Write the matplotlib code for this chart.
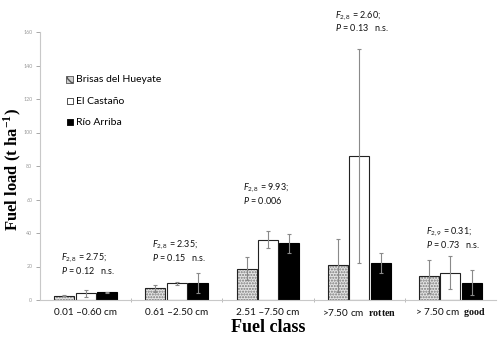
import matplotlib
matplotlib.use("Agg")
import matplotlib.pyplot as plt
import numpy as np

plt.rcParams['font.family'] = ['Lato', 'DejaVu Sans']
plt.rcParams['mathtext.fontset'] = 'custom'
plt.rcParams['mathtext.rm'] = 'Lato'
plt.rcParams['mathtext.it'] = 'Lato:italic'
plt.rcParams['mathtext.bf'] = 'Liberation Serif:bold'

categories = ["0.01 \u20130.60 cm", "0.61 \u20132.50 cm", "2.51 \u20137.50 cm",
              ">7.50 cm", "> 7.50 cm"]
category_suffix = ["", "", "", "rotten", "good"]
series = ["Brisas del Hueyate", "El Casta\u00f1o", "R\u00edo Arriba"]
brisas = [2.6, 7.0, 18.7, 20.7, 14.1]
brisas_err = [0.5, 2.0, 7.0, 16.0, 10.0]
castano = [4.0, 10.0, 36.0, 86.0, 16.3]
castano_err = [2.0, 0.8, 5.2, 64.0, 10.0]
rio = [4.5, 10.2, 33.8, 21.9, 10.3]
rio_err = [0.5, 6.0, 5.5, 6.0, 7.5]
stats_f = [r"$F_{2,8}$ = 2.75;", r"$F_{2,8}$ = 2.35;", r"$F_{2,8}$ = 9.93;",
           r"$F_{2,8}$ = 2.60;", r"$F_{2,9}$ = 0.31;"]
stats_p = [r"$P$ = 0.12   n.s.", r"$P$ = 0.15   n.s.", r"$P$ = 0.006",
           r"$P$ = 0.13   n.s.", r"$P$ = 0.73   n.s."]
stats_y = [25.0, 33.0, 67.0, 170.0, 40.5]
yticks = [0, 20, 40, 60, 80, 100, 120, 140, 160]

fig = plt.figure(figsize=(4.99, 3.40), dpi=100)
ax = fig.add_axes([40/499, 1-300/340, 456/499, 268/340])

x = np.arange(len(categories))
w = 0.22
off = 0.235
errkw = dict(ecolor='#8a8a8a', elinewidth=0.8, capsize=1.5, capthick=0.8)

# Brisas: hatched dotted fill
ax.bar(x - off, brisas, w, color='#e4e4e4', edgecolor='#7a7a7a', hatch='......', linewidth=0)
ax.bar(x - off, brisas, w, color='none', edgecolor='#222222', linewidth=0.8,
       yerr=brisas_err, error_kw=errkw)
ax.bar(x, castano, w, color='white', edgecolor='#222222', linewidth=0.8,
       yerr=castano_err, error_kw=errkw)
ax.bar(x + off, rio, w, color='black', edgecolor='black', linewidth=0.8,
       yerr=rio_err, error_kw=errkw)

# legend proxies
ax.scatter([], [], marker='s', s=24, color='#cfcfcf', edgecolor='#555555', hatch='xxx', linewidths=0.6, label=series[0])
ax.scatter([], [], marker='s', s=24, color='white', edgecolor='#333333', linewidths=0.6, label=series[1])
ax.scatter([], [], marker='s', s=24, color='black', edgecolor='black', linewidths=0.6, label=series[2])
leg = ax.legend(loc='upper left', bbox_to_anchor=(0.045, 0.855), frameon=False,
                fontsize=7.5, handletextpad=0.05, labelspacing=1.15, handlelength=1.0,
                borderaxespad=0)

ax.set_xlim(-0.5, 4.5)
ax.set_ylim(0, 160)
ax.set_yticks(yticks)
ax.tick_params(axis='y', labelsize=3.8, colors='#9a9a9a', length=3, width=0.6, pad=2.5)
ax.set_xticks(x)
ax.set_xticklabels([""] * len(categories))
ax.set_xticks(np.arange(0.5, 4.5, 1.0), minor=True)
ax.tick_params(axis='x', which='major', length=0)
ax.tick_params(axis='x', which='minor', length=3, width=0.6, colors='#b0b0b0', direction='inout')
for s in ['top', 'right']:
    ax.spines[s].set_visible(False)
ax.spines['left'].set_color('#c8c8c8')
ax.spines['bottom'].set_color('#c8c8c8')
ax.spines['left'].set_linewidth(0.8)
ax.spines['bottom'].set_linewidth(0.8)

for i, (c, sfx) in enumerate(zip(categories, category_suffix)):
    label = c if not sfx else c + r"  $\mathbf{" + sfx + "}$"
    ax.text(i, -7.2, label, ha='center', va='center', fontsize=7.2, color='#111111')

for i in range(len(categories)):
    ax.text(i - 0.27, stats_y[i], stats_f[i], fontsize=6.5, ha='left', va='center', color='#111111')
    ax.text(i - 0.27, stats_y[i] - 7.5, stats_p[i], fontsize=6.5, ha='left', va='center', color='#111111')

fig.text(12/499, 1-170/340, r"Fuel load (t ha$^{\mathbf{-1}}$)", fontsize=12, fontweight='bold',
         family='Liberation Serif', rotation=90, ha='center', va='center')
fig.text(268/499, 1-327/340, "Fuel class", fontsize=13, fontweight='bold',
         family='Liberation Serif', ha='center', va='center')

fig.savefig("out.png", dpi=100)
